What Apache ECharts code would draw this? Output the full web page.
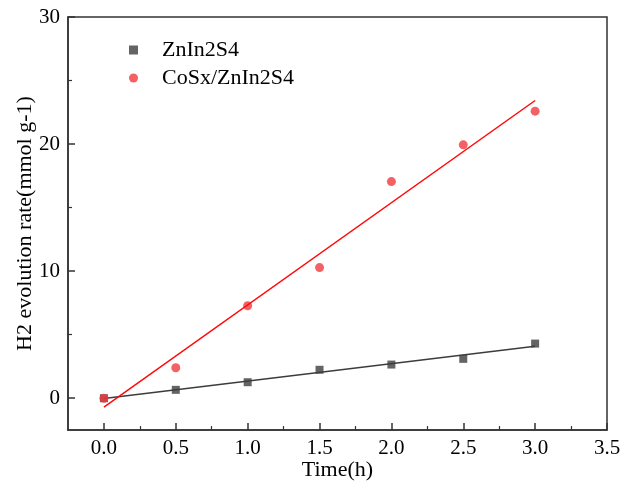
<!DOCTYPE html>
<html>
<head>
<meta charset="utf-8">
<script src="https://cdn.jsdelivr.net/npm/echarts@6/dist/echarts.min.js"></script>
<style>
  html, body { margin: 0; padding: 0; background: #fff; }
  #chart { width: 634px; height: 489px; }
</style>
</head>
<body>
<div id="chart"></div>
<script>
// data
const timeH = [0, 0.5, 1.0, 1.5, 2.0, 2.5, 3.0]
const znIn2S4 = [0, 0.66, 1.26, 2.24, 2.65, 3.1, 4.3]
const cosxZnIn2S4 = [0, 2.4, 7.28, 10.28, 17.05, 19.94, 22.59]

const xMajorTicks = [0, 0.5, 1.0, 1.5, 2.0, 2.5, 3.0, 3.5]
const xMinorTicks = [0.25, 0.75, 1.25, 1.75, 2.25, 2.75, 3.25]
const yMajorTicks = [0, 10, 20, 30]
const yMinorTicks = [5, 15, 25]

const FONT = '"Liberation Serif", "DejaVu Serif", serif'
const AXIS_COLOR = '#333'
const TEXT_COLOR = '#000'

// least squares fit, drawn from first to last time point
function fitLine(xs, ys) {
  const n = xs.length
  const mx = xs.reduce((a, b) => a + b, 0) / n
  const my = ys.reduce((a, b) => a + b, 0) / n
  let sxy = 0, sxx = 0
  for (let i = 0; i < n; i++) {
    sxy += (xs[i] - mx) * (ys[i] - my)
    sxx += (xs[i] - mx) * (xs[i] - mx)
  }
  const k = sxy / sxx
  const b = my - k * mx
  const x0 = xs[0], x1 = xs[n - 1]
  return [[x0, k * x0 + b], [x1, k * x1 + b]]
}

const pairs = ys => timeH.map((t, i) => [t, ys[i]])

const chart = echarts.init(document.getElementById('chart'), null, { renderer: 'canvas' })

const baseX = {
  type: 'value', min: -0.25, max: 3.5, position: 'bottom',
  splitLine: { show: false },
}
const baseY = {
  type: 'value', min: -2.5, max: 30, position: 'left',
  splitLine: { show: false },
}

const option = {
  backgroundColor: '#fff',
  animation: false,
  grid: {
    left: 68, right: 27, top: 17, bottom: 59,
    outerBoundsMode: 'none',
    show: true, borderColor: AXIS_COLOR, borderWidth: 1.5,
  },
  legend: {
    orient: 'vertical',
    left: 124, top: 34,
    itemWidth: 9, itemHeight: 9, itemGap: 6,
    data: [
      { name: 'ZnIn2S4', icon: 'rect' },
      { name: 'CoSx/ZnIn2S4', icon: 'circle' },
    ],
    textStyle: { fontFamily: FONT, fontSize: 22, color: TEXT_COLOR, padding: [0, 0, 0, 19] },
  },
  xAxis: [
    {
      ...baseX,
      name: 'Time(h)', nameLocation: 'middle', nameGap: 29, nameMoveOverlap: false,
      nameTextStyle: { fontFamily: FONT, fontSize: 22, color: TEXT_COLOR },
      axisLine: { show: true, onZero: false, lineStyle: { color: AXIS_COLOR, width: 1.5 } },
      axisTick: { show: true, inside: true, length: 7, customValues: xMajorTicks, lineStyle: { color: AXIS_COLOR, width: 1.5 } },
      axisLabel: {
        customValues: xMajorTicks, margin: 8,
        fontFamily: FONT, fontSize: 21, color: TEXT_COLOR,
        formatter: v => v.toFixed(1),
      },
    },
    {
      ...baseX,
      axisLine: { show: false, onZero: false },
      axisTick: { show: true, inside: true, length: 4, customValues: xMinorTicks, lineStyle: { color: AXIS_COLOR, width: 1.2 } },
      axisLabel: { show: false },
    },
  ],
  yAxis: [
    {
      ...baseY,
      name: 'H2 evolution rate(mmol g-1)', nameLocation: 'middle', nameGap: 32, nameMoveOverlap: false,
      nameTextStyle: { fontFamily: FONT, fontSize: 22, color: TEXT_COLOR },
      axisLine: { show: true, onZero: false, lineStyle: { color: AXIS_COLOR, width: 1.5 } },
      axisTick: { show: true, inside: true, length: 7, customValues: yMajorTicks, lineStyle: { color: AXIS_COLOR, width: 1.5 } },
      axisLabel: {
        customValues: yMajorTicks, margin: 8,
        fontFamily: FONT, fontSize: 21, color: TEXT_COLOR,
      },
    },
    {
      ...baseY,
      axisLine: { show: false, onZero: false },
      axisTick: { show: true, inside: true, length: 4, customValues: yMinorTicks, lineStyle: { color: AXIS_COLOR, width: 1.2 } },
      axisLabel: { show: false },
    },
  ],
  series: [
    {
      name: 'ZnIn2S4-fit', type: 'line', data: fitLine(timeH, znIn2S4),
      showSymbol: false, silent: true, z: 2,
      lineStyle: { color: '#3c3c3c', width: 1.5 },
    },
    {
      name: 'ZnIn2S4', type: 'scatter', data: pairs(znIn2S4),
      symbol: 'rect', symbolSize: 8, z: 3,
      itemStyle: { color: '#3d3d3d' },
    },
    {
      name: 'CoSx/ZnIn2S4', type: 'scatter', data: pairs(cosxZnIn2S4),
      symbol: 'circle', symbolSize: 9, z: 3,
      itemStyle: { color: '#f03a3f' },
    },
    {
      name: 'CoSx-fit', type: 'line', data: fitLine(timeH, cosxZnIn2S4),
      showSymbol: false, silent: true, z: 4,
      lineStyle: { color: '#ff0a0a', width: 1.5 },
    },
  ],
}

chart.setOption(option)
</script>
</body>
</html>
